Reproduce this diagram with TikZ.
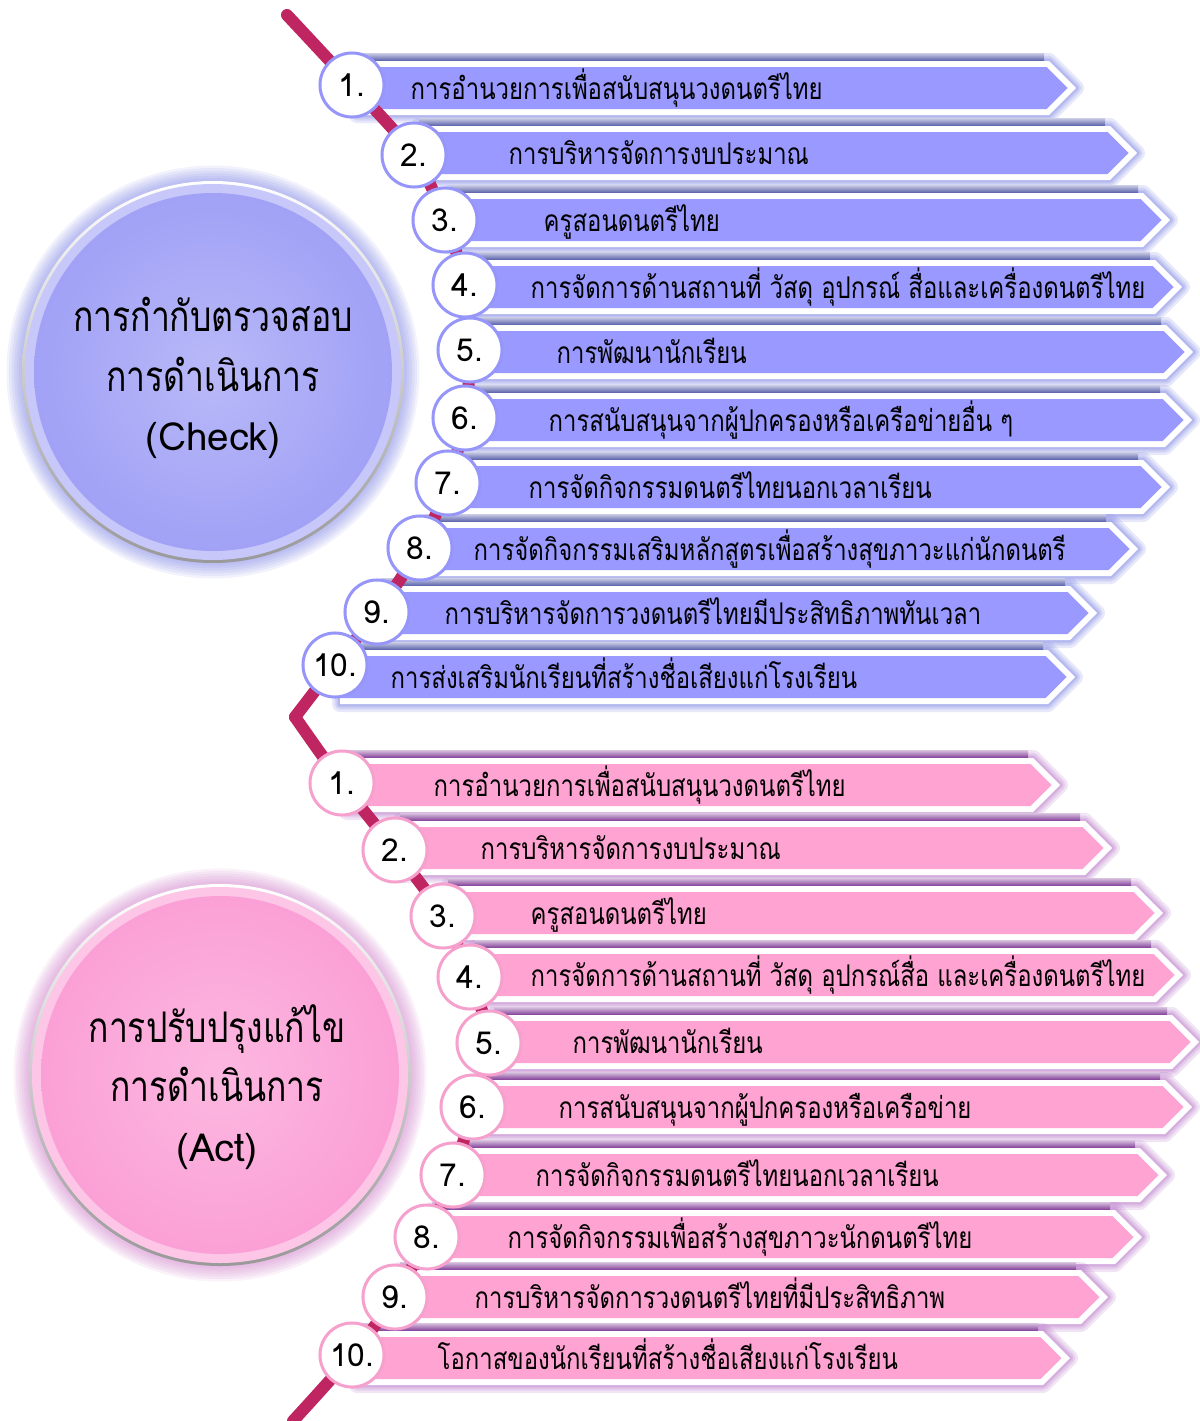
\documentclass[tikz,border=0pt]{standalone}
\usepackage{fontspec}
\setmainfont[Script=Thai, FakeStretch=0.8]{Loma}
\newfontfamily\latinfont{Loma}
\definecolor{fillb}{RGB}{153,153,255}
\definecolor{glowb}{RGB}{104,112,222}
\definecolor{bandb}{RGB}{84,92,168}
\definecolor{discb}{RGB}{161,161,246}
\definecolor{edgeb}{RGB}{150,150,250}
\definecolor{fillp}{RGB}{255,163,210}
\definecolor{glowp}{RGB}{170,92,190}
\definecolor{bandp}{RGB}{128,58,150}
\definecolor{discp}{RGB}{251,160,214}
\definecolor{edgep}{RGB}{246,160,206}
\definecolor{linkc}{RGB}{190,37,97}
\pgfdeclarelayer{bands}
\pgfdeclarelayer{links}
\pgfsetlayers{bands,links,main}

\begin{document}
\begin{tikzpicture}[x=.01cm, y=-.01cm,
		numdisc/.style={circle, draw=edgec, line width=.03cm, fill=white,
			minimum size=.64cm, inner sep=0pt, font=\latinfont\fontsize{9}{9}\selectfont},
		itemtext/.style={anchor=base west, inner sep=0pt,
			font=\fontsize{8.5}{8.5}\selectfont},
		bigtext/.style={align=center, inner sep=0pt,
			font=\fontsize{12}{17}\selectfont},
		link/.style={linkc, line width=.12cm, line cap=round}]
	\useasboundingbox (0,0) rectangle (1200,1421);
	\foreach\gr in{1,...,7}{
		\fill[glowb, opacity=.09] (213,372) circle[radius=189+\gr*2.5];
		\fill[glowp!60!fillp, opacity=.1] (220,1075) circle[radius=189+\gr*2.5];
	}
	\shade[top color=white, bottom color=gray!80] (213,372) circle[radius=191];
	\fill[discb!60!white] (213,372) circle[radius=188];
	\shade[inner color=discb!75!white, outer color=discb] (213,372) circle[radius=179];
	\node[bigtext] (check) at (213,378)
		{การกำกับตรวจสอบ\\การดำเนินการ\\{\latinfont\fontsize{11}{17}\selectfont(Check)}};
	\shade[top color=white, bottom color=gray!80] (220,1075) circle[radius=191];
	\fill[discp!60!white] (220,1075) circle[radius=188];
	\shade[inner color=discp!75!white, outer color=discp] (220,1075) circle[radius=179];
	\node[bigtext] (act) at (217,1087)
		{การปรับปรุงแก้ไข\\การดำเนินการ\\{\latinfont\fontsize{11}{17}\selectfont(Act)}};
	\foreach\sid/\ix/\cx/\cy/\yy/\tip/\tx/\txt in{
		b/1/352/85/88/1076/410/{การอำนวยการเพื่อสนับสนุนวงดนตรีไทย},
		b/2/414/155/153/1137/508/{การบริหารจัดการงบประมาณ},
		b/3/445/220/220/1170/543/{ครูสอนดนตรีไทย},
		b/4/465/285/287/1182/530/{การจัดการด้านสถานที่ วัสดุ อุปกรณ์ สื่อและเครื่องดนตรีไทย},
		b/5/470/350/352/1193/556/{การพัฒนานักเรียน},
		b/6/465/418/420/1192/548/{การสนับสนุนจากผู้ปกครองหรือเครือข่ายอื่น ๆ},
		b/7/448/483/487/1170/528/{การจัดกิจกรรมดนตรีไทยนอกเวลาเรียน},
		b/8/420/548/549/1138/473/{การจัดกิจกรรมเสริมหลักสูตรเพื่อสร้างสุขภาวะแก่นักดนตรี},
		b/9/377/612/613/1097/444/{การบริหารจัดการวงดนตรีไทยมีประสิทธิภาพทันเวลา},
		b/10/335/665/677/1075/390/{การส่งเสริมนักเรียนที่สร้างชื่อเสียงแก่โรงเรียน},
		p/1/342/783/785/1060/433/{การอำนวยการเพื่อสนับสนุนวงดนตรีไทย},
		p/2/395/850/848/1112/480/{การบริหารจัดการงบประมาณ},
		p/3/443/916/913/1163/530/{ครูสอนดนตรีไทย},
		p/4/470/977/975/1183/530/{การจัดการด้านสถานที่ วัสดุ อุปกรณ์สื่อ และเครื่องดนตรีไทย},
		p/5/489/1043/1042/1199/572/{การพัฒนานักเรียน},
		p/6/473/1107/1107/1192/558/{การสนับสนุนจากผู้ปกครองหรือเครือข่าย},
		p/7/453/1175/1175/1167/535/{การจัดกิจกรรมดนตรีไทยนอกเวลาเรียน},
		p/8/427/1237/1237/1142/507/{การจัดกิจกรรมเพื่อสร้างสุขภาวะนักดนตรีไทย},
		p/9/395/1297/1297/1108/474/{การบริหารจัดการวงดนตรีไทยที่มีประสิทธิภาพ},
		p/10/352/1355/1358/1070/437/{โอกาสของนักเรียนที่สร้างชื่อเสียงแก่โรงเรียน}
	}{
		\colorlet{fillc}{fill\sid}
		\colorlet{glowc}{glow\sid}
		\colorlet{bandc}{band\sid}
		\colorlet{edgec}{edge\sid}
		\begin{pgfonlayer}{bands}
			\foreach\gw in{16,11,7,4}{
				\draw[glowc, opacity=.16, line width=\gw*.01cm, line join=round]
					(\cx+5,\yy-27) -- (\tip-27,\yy-27) -- (\tip,\yy)
					-- (\tip-27,\yy+27) -- (\cx+5,\yy+27) -- cycle;
			}
			\shade[top color=bandc!30, bottom color=bandc]
				(\cx+5,\yy-35) rectangle (\tip-32,\yy-27);
			\fill[white] (\cx+5,\yy-27) -- (\tip-27,\yy-27) -- (\tip,\yy)
				-- (\tip-27,\yy+27) -- (\cx+5,\yy+27) -- cycle;
			\fill[fillc] (\cx+5,\yy-21) -- (\tip-29.5,\yy-21) -- (\tip-8.5,\yy)
				-- (\tip-29.5,\yy+21) -- (\cx+5,\yy+21) -- cycle;
		\end{pgfonlayer}
		\node[numdisc] (\sid\ix) at (\cx,\cy) {\ix.};
		\node[itemtext] (t\sid\ix) at (\tx,\yy+11) {\txt};
	}
	\coordinate (linktop) at (287,15);
	\coordinate (linkmid) at (295,717);
	\coordinate (linkend) at (293,1421);
	\begin{pgfonlayer}{links}
		\draw[link] plot[smooth] coordinates{(linktop) (b1.center) (b2.center)
			(b3.center) (b4.center) (b5.center) (b6.center) (b7.center)
			(b8.center) (b9.center) (b10.center) (linkmid)};
		\draw[link] plot[smooth] coordinates{(linkmid) (p1.center) (p2.center)
			(p3.center) (p4.center) (p5.center) (p6.center) (p7.center)
			(p8.center) (p9.center) (p10.center) (linkend)};
	\end{pgfonlayer}
\end{tikzpicture}
\end{document}
